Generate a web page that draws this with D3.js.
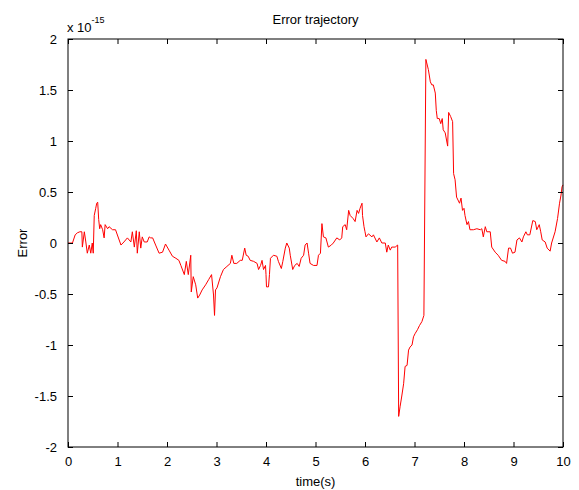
<!DOCTYPE html>
<html>
<head>
<meta charset="utf-8">
<script src="https://cdn.jsdelivr.net/npm/d3@7"></script>
<style>
  body { margin: 0; background: #fff; }
  text { font-family: "Liberation Sans", Arial, sans-serif; fill: #000; }
</style>
</head>
<body>
<div id="chart"></div>
<script>
// time (s)
const time = [
  0, 0.09, 0.145, 0.19, 0.24, 0.28, 0.29, 0.33, 0.36, 0.39, 0.43, 0.46, 0.49, 0.51, 0.53, 0.56, 0.58, 0.60,
  0.62, 0.64, 0.66, 0.70, 0.73, 0.75, 0.80, 0.83, 0.90, 0.96, 1.07, 1.13, 1.20, 1.27, 1.30, 1.34, 1.38, 1.40,
  1.44, 1.47, 1.50, 1.54, 1.60, 1.64, 1.67, 1.71, 1.77, 1.84, 1.91, 1.97, 2.04, 2.11, 2.18, 2.24, 2.28, 2.35,
  2.39, 2.43, 2.48, 2.49, 2.53, 2.58, 2.62, 2.66, 2.71, 2.78, 2.84, 2.90, 2.94, 2.96, 2.98, 3.01, 3.08, 3.14,
  3.21, 3.28, 3.31, 3.35, 3.41, 3.48, 3.52, 3.57, 3.60, 3.64, 3.68, 3.75, 3.82, 3.85, 3.89, 3.92, 3.95, 3.99,
  4.00, 4.01, 4.05, 4.07, 4.09, 4.15, 4.22, 4.25, 4.31, 4.34, 4.39, 4.42, 4.47, 4.49, 4.54, 4.58, 4.63, 4.67,
  4.71, 4.76, 4.79, 4.83, 4.86, 4.89, 4.96, 5.03, 5.06, 5.10, 5.13, 5.16, 5.21, 5.26, 5.32, 5.36, 5.43, 5.49,
  5.53, 5.55, 5.60, 5.63, 5.67, 5.70, 5.76, 5.80, 5.84, 5.87, 5.90, 5.94, 5.95, 5.98, 6.00, 6.02, 6.07, 6.14,
  6.17, 6.24, 6.29, 6.34, 6.41, 6.44, 6.47, 6.51, 6.54, 6.61, 6.66, 6.68, 6.71, 6.74, 6.78, 6.81, 6.85, 6.88,
  6.91, 6.95, 6.98, 7.01, 7.06, 7.10, 7.15, 7.19, 7.23, 7.28, 7.32, 7.35, 7.38, 7.42, 7.44, 7.46, 7.50, 7.53,
  7.56, 7.58, 7.62, 7.67, 7.69, 7.73, 7.77, 7.79, 7.82, 7.85, 7.91, 7.94, 7.97, 8.00, 8.02, 8.06, 8.09, 8.12,
  8.19, 8.26, 8.33, 8.36, 8.39, 8.43, 8.46, 8.53, 8.56, 8.63, 8.69, 8.76, 8.83, 8.86, 8.90, 8.94, 8.98, 9.03,
  9.07, 9.12, 9.17, 9.20, 9.25, 9.28, 9.33, 9.39, 9.44, 9.47, 9.52, 9.55, 9.58, 9.64, 9.68, 9.74, 9.77, 9.84,
  9.89, 9.93, 9.96, 9.98, 10
];
// error, in units of 1e-15
const error = [
  0, 0, 0.08, 0.10, 0.11, 0.11, -0.04, 0.11, 0.01, -0.10, -0.02, -0.10, 0, -0.10, 0.27, 0.34, 0.39, 0.40,
  0.23, 0.14, 0.18, 0.13, 0.05, 0.18, 0.14, 0.16, 0.13, 0.13, -0.02, 0.01, 0.05, 0.01, 0.11, -0.04, 0.12, -0.10,
  0.11, -0.05, 0.06, 0.01, 0.01, 0.06, 0.05, 0.05, -0.02, -0.10, -0.09, -0.01, -0.07, -0.13, -0.15, -0.17, -0.22, -0.31,
  -0.18, -0.31, -0.12, -0.48, -0.33, -0.41, -0.54, -0.51, -0.46, -0.41, -0.36, -0.31, -0.51, -0.71, -0.46, -0.44, -0.33, -0.26,
  -0.23, -0.20, -0.12, -0.20, -0.20, -0.17, -0.17, -0.05, -0.12, -0.13, -0.17, -0.18, -0.20, -0.26, -0.22, -0.17, -0.26, -0.22,
  -0.31, -0.43, -0.43, -0.31, -0.15, -0.12, -0.13, -0.18, -0.25, -0.18, -0.05, 0, -0.05, -0.12, -0.26, -0.22, -0.20, -0.23,
  -0.15, -0.12, -0.02, 0, -0.10, -0.20, -0.22, -0.22, -0.12, -0.10, 0.19, 0.06, 0.05, -0.04, -0.02, 0, 0.05, 0.03,
  0.05, 0.16, 0.18, 0.13, 0.32, 0.27, 0.24, 0.21, 0.32, 0.29, 0.34, 0.39, 0.27, 0.16, 0.11, 0.06, 0.09, 0.06,
  0.08, 0.01, 0.05, 0, 0, -0.09, -0.02, -0.07, -0.04, -0.04, -0.02, -1.70, -1.60, -1.51, -1.38, -1.21, -1.20, -1.05,
  -1.02, -1.00, -0.92, -0.89, -0.85, -0.81, -0.77, -0.71, 1.80, 1.70, 1.58, 1.55, 1.55, 1.47, 1.30, 1.22, 1.22, 1.17,
  1.22, 1.11, 1.08, 0.95, 1.28, 1.24, 1.19, 0.68, 0.62, 0.45, 0.39, 0.44, 0.32, 0.34, 0.27, 0.18, 0.21, 0.13,
  0.13, 0.14, 0.13, 0.14, 0.06, 0.16, 0.11, 0.11, -0.04, -0.09, -0.12, -0.17, -0.18, -0.20, -0.05, -0.05, -0.10, -0.09,
  0.03, 0.05, 0.01, 0.06, 0.11, 0.08, 0.08, 0.22, 0.21, 0.13, 0.18, 0.11, 0.03, 0.01, -0.05, -0.08, 0, 0.11,
  0.24, 0.39, 0.47, 0.55, 0.57
];
const xTicks = [0, 1, 2, 3, 4, 5, 6, 7, 8, 9, 10];
const yTicks = [-2, -1.5, -1, -0.5, 0, 0.5, 1, 1.5, 2];

const width = 579, height = 490;
const margin = { top: 39, right: 16, bottom: 43, left: 68 };
const iw = width - margin.left - margin.right;
const ih = height - margin.top - margin.bottom;

const svg = d3.select("#chart").append("svg")
  .attr("width", width)
  .attr("height", height);

const x = d3.scaleLinear().domain([0, 10]).range([0, iw]);
const y = d3.scaleLinear().domain([-2, 2]).range([ih, 0]);

const g = svg.append("g").attr("transform", `translate(${margin.left},${margin.top})`);

const data = time.map((t, i) => [t, error[i]]);

g.append("path")
  .datum(data)
  .attr("fill", "none")
  .attr("stroke", "#ff0000")
  .attr("stroke-width", 1)
  .attr("d", d3.line().x(d => x(d[0])).y(d => y(d[1])));

// axes, ticks pointing inward like matlab
function styleAxis(sel) {
  sel.select(".domain").remove();
  sel.selectAll(".tick line").attr("stroke", "#000");
  sel.selectAll("text").style("font-size", "13px").style("font-family", '"Liberation Sans", Arial, sans-serif');
}
const fmt = d => String(d);

g.append("g").attr("transform", `translate(0,${ih})`)
  .call(d3.axisBottom(x).tickValues(xTicks).tickFormat(fmt).tickSizeInner(-5).tickPadding(10).tickSizeOuter(0))
  .call(styleAxis);
g.append("g")
  .call(d3.axisTop(x).tickValues(xTicks).tickFormat("").tickSizeInner(-5).tickSizeOuter(0))
  .call(styleAxis);
g.append("g")
  .call(d3.axisLeft(y).tickValues(yTicks).tickFormat(fmt).tickSizeInner(-5).tickPadding(11).tickSizeOuter(0))
  .call(styleAxis);
g.append("g").attr("transform", `translate(${iw},0)`)
  .call(d3.axisRight(y).tickValues(yTicks).tickFormat("").tickSizeInner(-5).tickSizeOuter(0))
  .call(styleAxis);

g.append("rect")
  .attr("width", iw).attr("height", ih)
  .attr("fill", "none").attr("stroke", "#000").attr("stroke-width", 1);

// labels
svg.append("text")
  .attr("x", margin.left + iw / 2).attr("y", 24)
  .attr("text-anchor", "middle").style("font-size", "13px")
  .text("Error trajectory");

svg.append("text")
  .attr("x", margin.left + iw / 2).attr("y", 486)
  .attr("text-anchor", "middle").style("font-size", "13px")
  .text("time(s)");

svg.append("text")
  .attr("transform", `translate(27,${margin.top + ih / 2}) rotate(-90)`)
  .attr("text-anchor", "middle").style("font-size", "13px")
  .text("Error");

const ex = svg.append("text").attr("x", 67).attr("y", 32).style("font-size", "13px");
ex.append("tspan").text("x 10");
ex.append("tspan").attr("dy", -9).style("font-size", "9px").text("-15");
</script>
</body>
</html>
